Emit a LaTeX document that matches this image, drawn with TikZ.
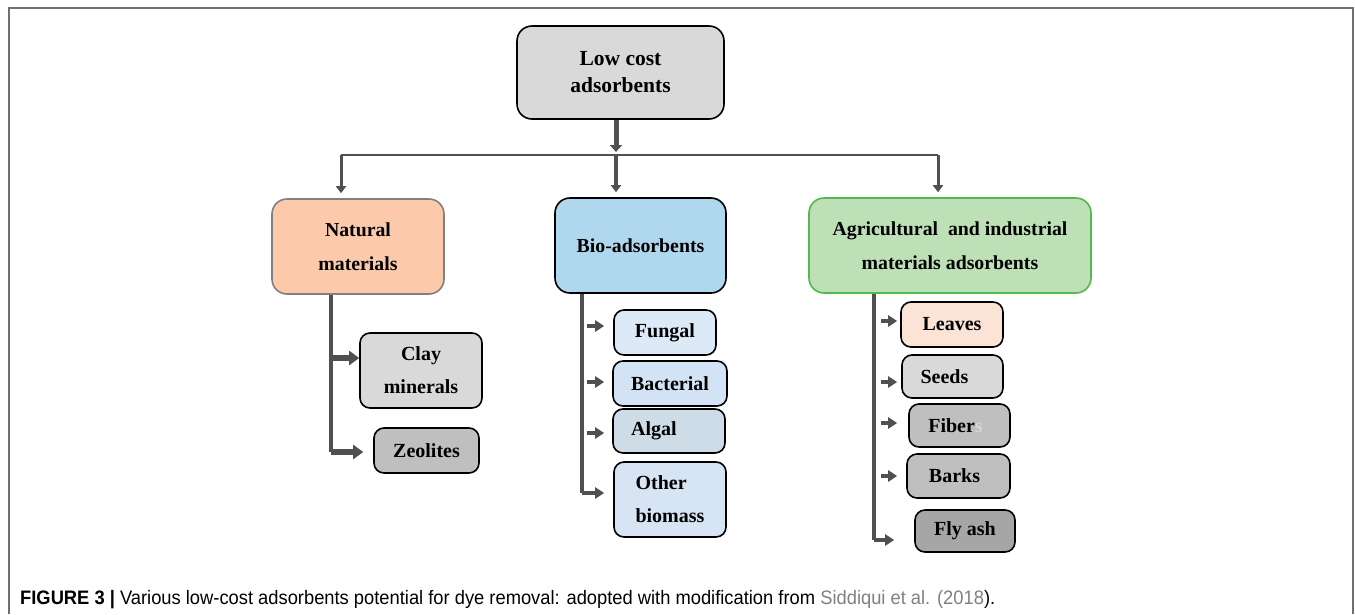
\documentclass[tikz,border=0pt]{standalone}
\usepackage{fontspec}
\setmainfont{Liberation Serif}
\newfontfamily\capfont[FakeStretch=0.94]{Liberation Sans}
\usetikzlibrary{arrows.meta}
\definecolor{arrgray}{HTML}{505050}
\definecolor{framegray}{HTML}{707070}
\definecolor{natfill}{HTML}{FCCAAA}
\definecolor{biofill}{HTML}{AFD8EE}
\definecolor{agrifill}{HTML}{BDE0B6}
\definecolor{agriborder}{HTML}{55B84C}
\definecolor{leaffill}{HTML}{FBE3D5}
\definecolor{fungfill}{HTML}{DCEAF7}
\definecolor{bactfill}{HTML}{D2E3F5}
\definecolor{algfill}{HTML}{CDDCE7}
\definecolor{othfill}{HTML}{D6E4F4}
\definecolor{lgray}{HTML}{D9D9D9}
\definecolor{mgray}{HTML}{BFBFBF}
\definecolor{dgray}{HTML}{A6A6A6}
\definecolor{citegray}{HTML}{808080}
\tikzset{
  bigbox/.style={draw=black, line width=1.6pt, rounded corners=15pt, align=center,
    font=\bfseries\fontsize{19.8}{34}\selectfont, inner sep=0pt},
  smallbox/.style={draw=black, line width=1.6pt, rounded corners=10pt, align=center,
    font=\bfseries\fontsize{20}{33}\selectfont, inner sep=0pt},
  hline/.style={draw=arrgray, line width=2.8pt},
  vline/.style={draw=arrgray, line width=3.6pt},
  downarr/.style={draw=arrgray, line width=3pt, -{Triangle[width=10pt,length=7pt]}},
  rootarr/.style={draw=arrgray, line width=5pt, -{Triangle[width=12pt,length=7pt]}},
  bigarr/.style={draw=arrgray, line width=5.5pt, -{Triangle[width=14pt,length=10pt]}},
  smallarr/.style={draw=arrgray, line width=4.5pt, -{Triangle[width=11pt,length=9pt]}},
}
\begin{document}
\begin{tikzpicture}[x=1pt,y=-1pt]
\useasboundingbox (0,0) rectangle (1355,614);
% frame
\draw[framegray, line width=2pt] (9,614) -- (9,8) -- (1353,8) -- (1353,614);

% root and level-one boxes
\node[bigbox, fill=lgray, minimum width=207pt, minimum height=93pt,
  font=\bfseries\fontsize{21.5}{27}\selectfont] (root) at (620.5,72.5) {Low cost\\adsorbents};
\node[bigbox, fill=natfill, draw=gray, minimum width=172pt, minimum height=95pt] (nat) at (358,246.5) {Natural\\materials};
\node[bigbox, fill=biofill, minimum width=171pt, minimum height=95pt] (bio) at (640.5,245.5) {Bio-adsorbents};
\node[bigbox, fill=agrifill, draw=agriborder, minimum width=282pt, minimum height=95pt] (agri) at (950,245.5) {Agricultural\ \ and industrial\\materials adsorbents};

% level-two boxes
\node[smallbox, fill=lgray, minimum width=122pt, minimum height=75pt] (clay) at (421,370.5) {Clay\\minerals};
\node[smallbox, fill=mgray, minimum width=105pt, minimum height=45pt] (zeo) at (426.5,450.5) {Zeolites};

\node[smallbox, fill=fungfill, minimum width=102pt, minimum height=45pt] (fung) at (665,332.5) {Fungal};
\node[smallbox, fill=bactfill, minimum width=114pt, minimum height=45pt] (bact) at (670,383.5) {Bacterial};
\node[smallbox, fill=algfill, minimum width=112pt, minimum height=44pt] (alg) at (669,431) {Algal\hspace*{30pt}};
\node[smallbox, fill=othfill, minimum width=112pt, minimum height=75pt, align=left] (oth) at (670,499.5) {Other\\biomass};

\node[smallbox, fill=leaffill, minimum width=102pt, minimum height=45pt] (leav) at (952,324.5) {Leaves};
\node[smallbox, fill=lgray, minimum width=101pt, minimum height=43pt] (seed) at (952.5,376.5) {Seeds\hspace*{16pt}};
\node[smallbox, fill=mgray, minimum width=101pt, minimum height=43pt] (fib) at (959.5,425.5) {Fiber{\color{lgray}s}\hspace*{8pt}};
\node[smallbox, fill=mgray, minimum width=103pt, minimum height=44pt] (bark) at (958.5,476) {Barks\hspace*{8pt}};
\node[smallbox, fill=dgray, minimum width=100pt, minimum height=42pt] (fly) at (965,531) {Fly ash};

% top connectors
\coordinate (hL) at (341,155);
\coordinate (hM) at (616,155);
\coordinate (hR) at (938,155);
\draw[hline] (hL) -- (hR);
\draw[rootarr] (root.south -| hM) -- ([yshift=3pt]hM);
\draw[downarr] (hL) -- ([yshift=5pt]nat.north -| hL);
\draw[downarr, line width=4pt] (hM) -- ([yshift=5pt]bio.north -| hM);
\draw[downarr] (hR) -- ([yshift=5pt]agri.north -| hR);

% natural branch
\coordinate (nv) at (331,452);
\draw[vline] (nat.south -| nv) -- (nv);
\draw[bigarr] ([yshift=12.5pt]clay.west -| nv) -- ([yshift=12.5pt]clay.west);
\draw[bigarr, shorten >=10pt] (nv) -- ([yshift=-1.5pt]zeo.west);

% bio branch
\coordinate (bv) at (582,493);
\draw[vline] (bio.south -| bv) -- (bv);
\draw[smallarr, shorten <=5pt, shorten >=9pt] ([yshift=6.5pt]fung.west -| bv) -- ([yshift=6.5pt]fung.west);
\draw[smallarr, shorten <=5pt, shorten >=8pt] ([yshift=1.5pt]bact.west -| bv) -- ([yshift=1.5pt]bact.west);
\draw[smallarr, shorten <=5pt, shorten >=8pt] ([yshift=-2pt]alg.west -| bv) -- ([yshift=-2pt]alg.west);
\draw[smallarr, shorten >=9pt] (bv) -- ([yshift=6.5pt]oth.west);

% agricultural branch
\coordinate (av) at (874,540);
\draw[vline] (agri.south -| av) -- (av);
\draw[smallarr, shorten <=7pt, shorten >=3pt] ([yshift=3.5pt]leav.west -| av) -- ([yshift=3.5pt]leav.west);
\draw[smallarr, shorten <=7pt, shorten >=4pt] ([yshift=-5.5pt]seed.west -| av) -- ([yshift=-5.5pt]seed.west);
\draw[smallarr, shorten <=7pt, shorten >=11pt] ([yshift=2.5pt]fib.west -| av) -- ([yshift=2.5pt]fib.west);
\draw[smallarr, shorten <=7pt, shorten >=9pt] (bark.west -| av) -- (bark.west);
\draw[smallarr, shorten >=20pt] (av) -- ([yshift=-9pt]fly.west);

% caption
\node[anchor=base west, inner sep=0pt, font=\capfont\fontsize{19.5}{22}\selectfont] (cap) at (20,604)
  {\textbf{FIGURE 3 |} Various low-cost adsorbents potential for dye removal: adopted with modification from {\color{citegray}Siddiqui et al. (2018}).};
\end{tikzpicture}
\end{document}
